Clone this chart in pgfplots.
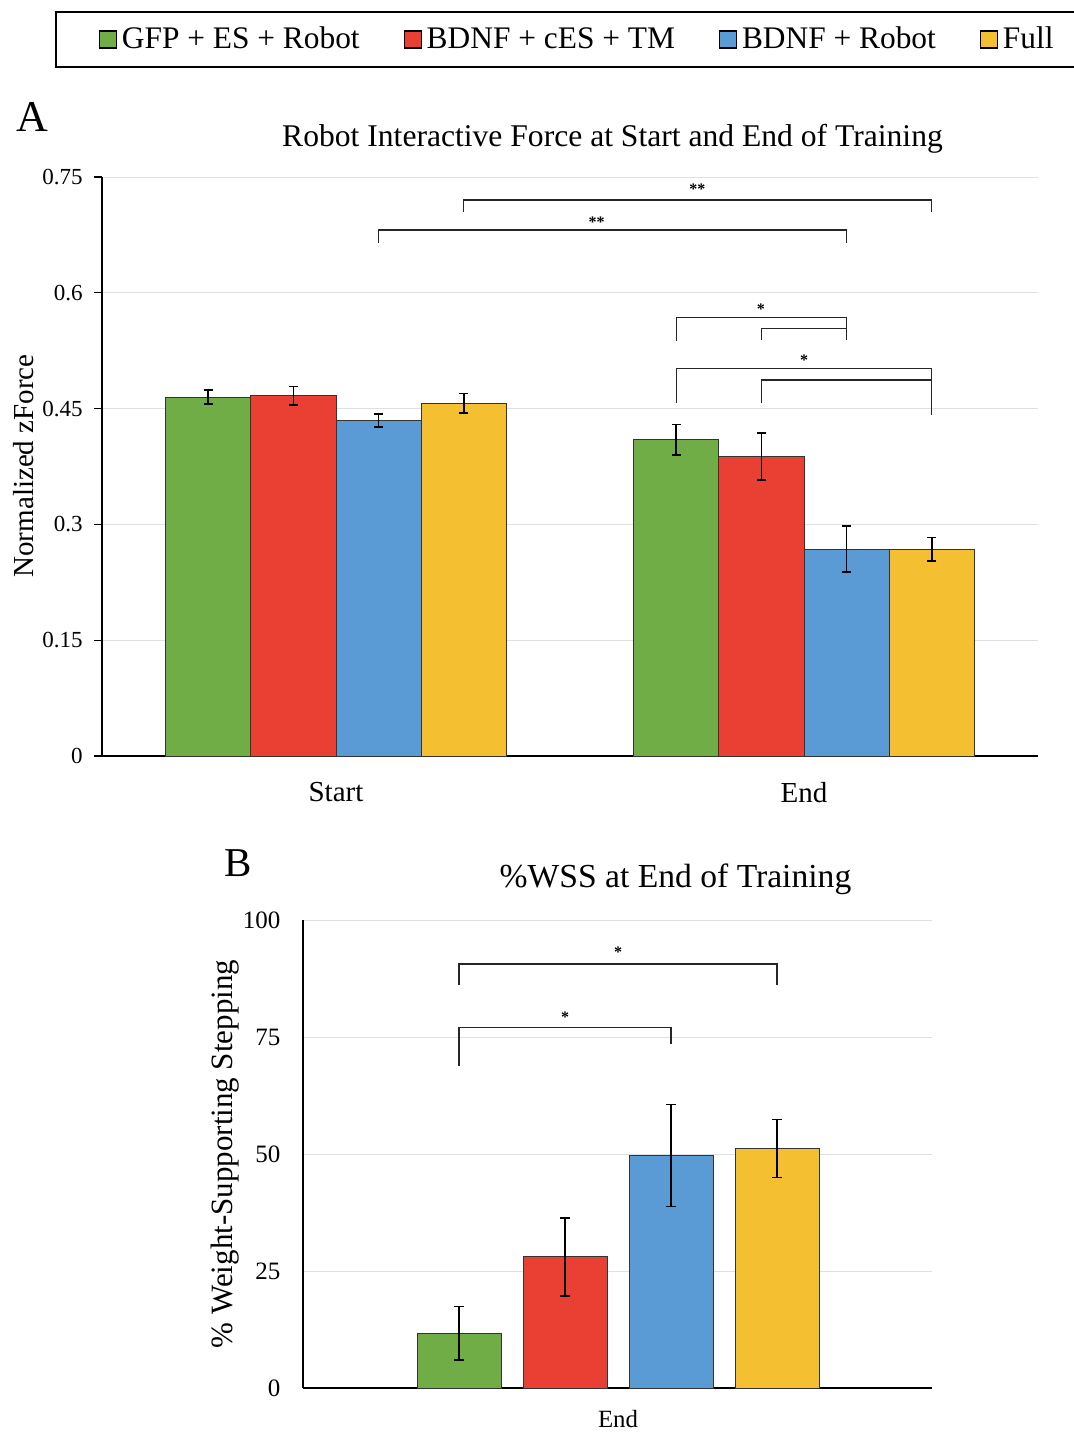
\documentclass[border=0pt]{standalone}
\usepackage{fontspec}
\setmainfont{Liberation Serif}
\usepackage{pgfplots}
\pgfplotsset{compat=1.18}
\definecolor{cgreen}{HTML}{70AD47}
\definecolor{cred}{HTML}{E94033}
\definecolor{cblue}{HTML}{5B9BD5}
\definecolor{cyellow}{HTML}{F5BF32}
\newcommand{\fs}[1]{\fontsize{#1}{#1}\selectfont}
\pgfplotsset{
  mybar/.style={ybar, bar shift=0pt, draw=black!80, line width=0.5pt,
    error bars/y dir=both, error bars/y explicit,
    error bars/error bar style={line width=0.75pt, black},
    error bars/error mark options={rotate=90, mark size=2.3pt, line width=0.75pt, black}},
  brk/.style={black!85, line width=0.7pt, forget plot, mark=none},
}
\begin{document}
\begin{tikzpicture}
\useasboundingbox (0,0) rectangle (536.5pt,-716.5pt);
% Panel A
\begin{axis}[
  at={(51pt,-378pt)}, anchor=south west,
  scale only axis, width=468pt, height=289.5pt,
  xmin=-0.5, xmax=1.5, ymin=0, ymax=0.75,
  clip=false,
  axis lines=left, axis line style={-, line width=1pt, black},
  xtick={0,1}, xticklabels={Start,End},
  x tick style={draw=none},
  xticklabel style={font=\fs{14.5}, anchor=north, inner sep=0pt, yshift=-9pt},
  ytick={0,0.15,0.3,0.45,0.6,0.75},
  yticklabels={0,0.15,0.3,0.45,0.6,0.75},
  yticklabel style={font=\fs{11.5}, anchor=east, inner sep=0pt, xshift=-5.5pt},
  y tick style={black, line width=0.6pt},
  tick align=outside, major tick length=4pt,
  ymajorgrids, y grid style={black!12, line width=0.5pt},
  ylabel={Normalized zForce},
  ylabel style={font=\fs{14.5}, at={(rel axis cs:-0.0835,0.5009)}, anchor=center},
  bar width=0.182,
  legend columns=4,
  legend image code/.code={\draw[#1, draw=black, line width=0.7pt] (1.5pt,-4.25pt) rectangle (10pt,4.25pt); \path (0pt,0pt) (11pt,0pt);},
  legend style={at={(rel axis cs:-0.0502,1.2867)}, anchor=north west,
    draw=black, line width=0.9pt, font=\fs{15.7},
    inner xsep=20pt, inner ysep=6pt,
    nodes={inner sep=1.5pt},
    /tikz/every even column/.append style={column sep=19pt}},
]
\addplot[mybar, fill=cgreen] coordinates {(-0.273,0.465) +- (0,0.0093) (0.727,0.4097) +- (0,0.020)};
\addlegendentry{GFP + ES + Robot}
\addplot[mybar, fill=cred] coordinates {(-0.091,0.4667) +- (0,0.012) (0.909,0.3877) +- (0,0.0304)};
\addlegendentry{BDNF + cES + TM}
\addplot[mybar, fill=cblue] coordinates {(0.091,0.4348) +- (0,0.0084) (1.091,0.2681) +- (0,0.030)};
\addlegendentry{BDNF + Robot}
\addplot[mybar, fill=cyellow] coordinates {(0.273,0.4568) +- (0,0.0125) (1.273,0.268) +- (0,0.0153)};
\addlegendentry{Full}
% significance brackets
\addplot[brk] coordinates {(0.273,0.7047) (0.273,0.7202) (1.273,0.7202) (1.273,0.7047)};
\addplot[brk] coordinates {(0.091,0.6645) (0.091,0.6813) (1.091,0.6813) (1.091,0.6645)};
\addplot[brk] coordinates {(0.727,0.5379) (0.727,0.5682) (1.091,0.5682) (1.091,0.5395)};
\addplot[brk] coordinates {(0.909,0.5395) (0.909,0.5539) (1.091,0.5539)};
\addplot[brk] coordinates {(0.727,0.4569) (0.727,0.5022) (1.273,0.5022) (1.273,0.4417)};
\addplot[brk] coordinates {(0.909,0.4569) (0.909,0.4870) (1.273,0.4870)};
\node[font=\fs{8}\bfseries, inner sep=0pt] at (axis cs:0.772,0.7344) {**};
\node[font=\fs{8}\bfseries, inner sep=0pt] at (axis cs:0.557,0.6917) {**};
\node[font=\fs{8}\bfseries, inner sep=0pt] at (axis cs:0.908,0.5790) {*};
\node[font=\fs{8}\bfseries, inner sep=0pt] at (axis cs:1.0,0.5130) {*};
\end{axis}
\node[font=\fs{22}, anchor=base west, inner sep=0pt] at (8pt,-66pt) {A};
\node[font=\fs{15.8}, anchor=base, inner sep=0pt] at (306.25pt,-73.5pt) {Robot Interactive Force at Start and End of Training};
% Panel B
\begin{axis}[
  at={(151.5pt,-694pt)}, anchor=south west,
  scale only axis, width=314.5pt, height=234pt,
  xmin=-3.15, xmax=3.14, ymin=0, ymax=100,
  clip=false,
  axis lines=left, axis line style={-, line width=1pt, black},
  xtick={0}, xticklabels={End},
  x tick style={draw=none},
  xticklabel style={font=\fs{12.4}, anchor=north, inner sep=0pt, yshift=-9pt},
  ytick={0,25,50,75,100},
  yticklabels={0,25,50,75,100},
  y tick style={draw=none},
  yticklabel style={font=\fs{12.5}, anchor=east, inner sep=0pt, xshift=-9pt},
  ymajorgrids, y grid style={black!12, line width=0.5pt},
  ylabel={\% Weight-Supporting Stepping},
  ylabel style={font=\fs{15.5}, at={(rel axis cs:-0.1240,0.5)}, anchor=center},
  bar width=0.84,
]
\addplot[mybar, fill=cgreen] coordinates {(-1.59,11.7) +- (0,5.7)};
\addplot[mybar, fill=cred] coordinates {(-0.53,28.0) +- (0,8.3)};
\addplot[mybar, fill=cblue] coordinates {(0.53,49.7) +- (0,10.9)};
\addplot[mybar, fill=cyellow] coordinates {(1.59,51.2) +- (0,6.2)};
\addplot[brk] coordinates {(-1.59,86.2) (-1.59,90.6) (1.59,90.6) (1.59,86.2)};
\addplot[brk] coordinates {(-1.59,68.8) (-1.59,77.0) (0.53,77.0) (0.53,73.6)};
\node[font=\fs{8}\bfseries, inner sep=0pt] at (axis cs:0,93.1) {*};
\node[font=\fs{8}\bfseries, inner sep=0pt] at (axis cs:-0.53,79.2) {*};
\end{axis}
\node[font=\fs{20.5}, anchor=base west, inner sep=0pt] at (112pt,-438pt) {B};
\node[font=\fs{16.8}, anchor=base, inner sep=0pt] at (337.75pt,-443.5pt) {\%WSS at End of Training};
\end{tikzpicture}
\end{document}
